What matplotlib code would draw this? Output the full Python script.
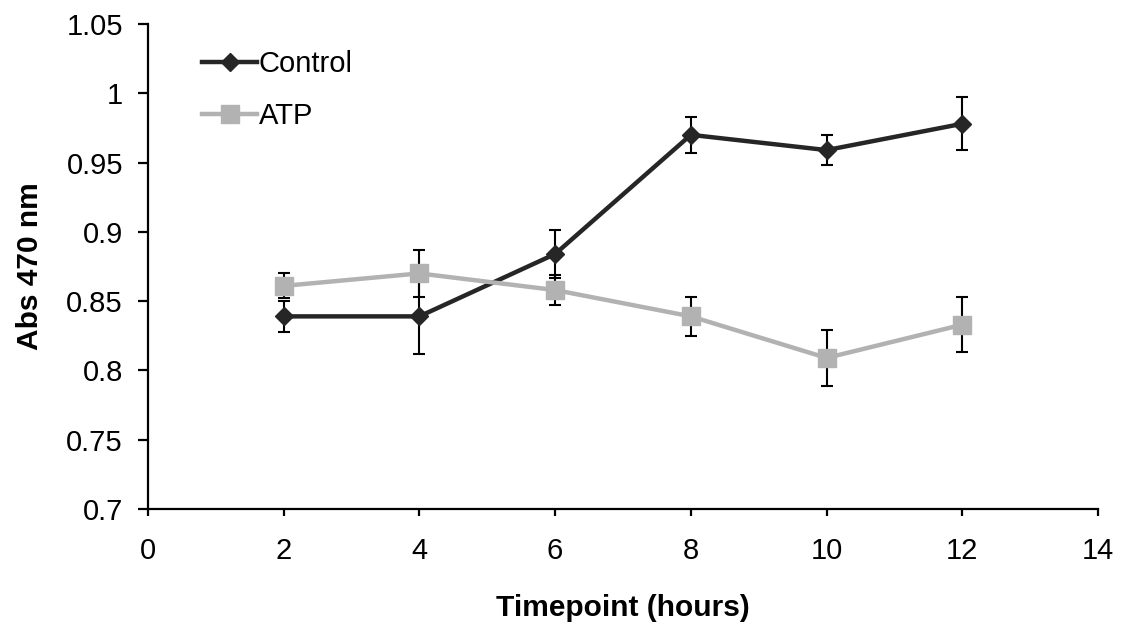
import matplotlib.pyplot as plt

plt.rcParams['font.family'] = ['Liberation Sans', 'DejaVu Sans']

# 数据
hours = [2, 4, 6, 8, 10, 12]
control = [0.839, 0.839, 0.884, 0.970, 0.959, 0.978]
control_err = [0.011, 0.027, 0.017, 0.013, 0.011, 0.019]
atp = [0.861, 0.870, 0.858, 0.839, 0.809, 0.833]
atp_err = [0.009, 0.017, 0.011, 0.014, 0.020, 0.020]

x_ticks = [0, 2, 4, 6, 8, 10, 12, 14]
y_ticks = [0.7, 0.75, 0.8, 0.85, 0.9, 0.95, 1.0, 1.05]
y_labels = ['0.7', '0.75', '0.8', '0.85', '0.9', '0.95', '1', '1.05']

dark = '#262626'
grey = '#b2b2b2'

fig = plt.figure(figsize=(11.29, 6.28), dpi=100)
ax = fig.add_axes([0.131, 0.1895, 0.8416, 0.7723])

# Control
ax.errorbar(hours, control, yerr=control_err, fmt='none', ecolor='black',
            elinewidth=1.5, capsize=4.5, capthick=1.5, zorder=2)
ax.plot(hours, control, color=dark, lw=3.2, marker='D', markersize=9,
        label='Control', zorder=3)

# ATP
ax.errorbar(hours, atp, yerr=atp_err, fmt='none', ecolor='black',
            elinewidth=1.5, capsize=4.5, capthick=1.5, zorder=4)
ax.plot(hours, atp, color=grey, lw=3.2, marker='s', markersize=13,
        label='ATP', zorder=5)

ax.set_xlim(0, 14)
ax.set_ylim(0.7, 1.05)
ax.set_xticks(x_ticks)
ax.set_yticks(y_ticks)
ax.set_yticklabels(y_labels)

for s in ['top', 'right']:
    ax.spines[s].set_visible(False)
for s in ['left', 'bottom']:
    ax.spines[s].set_linewidth(1.6)
ax.tick_params(direction='out', width=1.6, labelsize=21)
ax.tick_params(axis='y', length=7, pad=11)
ax.tick_params(axis='x', length=5, pad=15)

ax.set_xlabel('Timepoint (hours)', fontsize=21.5, weight='bold', labelpad=21)
ax.set_ylabel('Abs 470 nm', fontsize=21.5, weight='bold', labelpad=16)

leg = ax.legend(loc='upper left', bbox_to_anchor=(0.057, 0.946), frameon=False,
                fontsize=21, handlelength=1.9, handletextpad=0.05,
                labelspacing=0.82, borderpad=0, borderaxespad=0)

plt.savefig('out.png', dpi=100)
plt.close()
